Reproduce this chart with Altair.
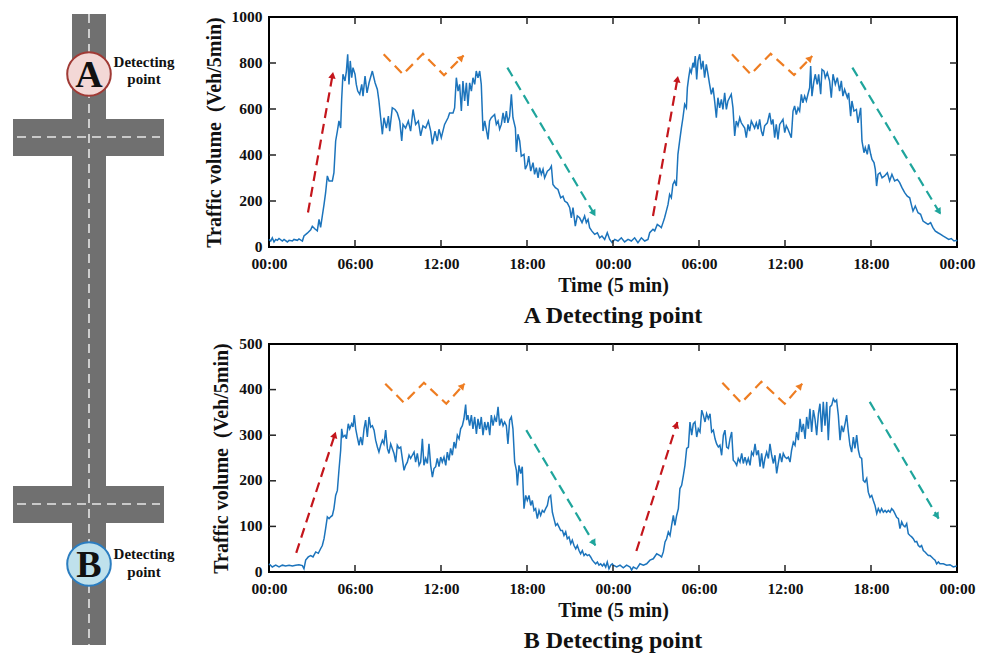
import math
import altair as alt
import pandas as pd

FONT = "Liberation Serif"
INK = "#111111"

# ---------------- data (hours, Veh/5min) ----------------
A_POINTS = [
(0.00,33),(0.12,26),(0.23,40),(0.35,22),(0.47,33),(0.58,29),(0.70,37),(0.93,26),(1.05,33),(1.28,22),(1.40,29),(1.63,26),(1.74,33),(1.98,29),(2.09,35),(2.33,26),(2.44,48),(2.67,60),(2.91,75),(3.02,90),(3.21,78),(3.37,70),(3.49,120),(3.60,85),(3.72,135),(3.84,185),(3.95,236),(4.07,309),(4.19,287),(4.42,287),(4.53,323),(4.65,461),(4.77,504),(4.88,548),(5.00,517),(5.07,642),(5.16,751),(5.30,722),(5.40,765),(5.49,838),(5.58,707),(5.67,809),(5.77,736),(5.86,780),(6.00,751),(6.09,707),(6.19,678),(6.33,664),(6.47,707),(6.56,656),(6.70,743),(6.84,670),(6.98,714),(7.21,765),(7.40,714),(7.56,685),(7.67,635),(7.79,562),(7.91,490),(8.02,562),(8.19,517),(8.33,569),(8.42,504),(8.60,605),(8.79,598),(8.95,583),(9.12,548),(9.26,461),(9.35,533),(9.53,517),(9.72,548),(9.88,504),(10.05,598),(10.23,533),(10.42,548),(10.58,483),(10.74,527),(10.93,517),(11.12,548),(11.28,504),(11.40,446),(11.58,504),(11.74,461),(11.86,512),
(12.02,475),(12.25,533),(12.49,562),(12.60,583),(12.84,583),(12.95,605),(13.07,736),(13.19,678),(13.30,707),(13.42,591),(13.53,722),(13.65,635),(13.77,714),(13.88,613),(14.00,714),(14.12,678),(14.23,736),(14.35,707),(14.46,765),(14.58,736),(14.70,765),(14.81,707),(14.93,504),(15.05,548),(15.16,512),(15.28,468),(15.39,548),(15.51,562),(15.74,576),(15.86,533),(15.98,548),(16.09,512),(16.21,533),(16.33,583),(16.44,540),(16.56,591),(16.67,540),(16.79,569),(16.91,664),(17.02,562),(17.19,517),(17.26,413),(17.37,490),(17.49,461),(17.60,395),(17.79,403),(17.88,338),(18.02,359),(18.12,395),(18.26,330),(18.42,367),(18.53,316),(18.65,345),(18.77,301),(18.88,345),(19.00,316),(19.12,338),(19.23,301),(19.42,330),(19.58,338),(19.70,352),(19.81,272),(19.98,258),(20.16,250),(20.35,214),(20.51,221),(20.63,200),(20.81,192),(20.98,171),(21.09,127),(21.21,171),(21.37,91),(21.51,135),(21.67,127),(21.84,106),(22.02,135),(22.14,106),(22.26,120),(22.37,84),(22.53,69),(22.72,55),(22.91,62),(23.07,40),(23.23,48),(23.42,33),(23.60,62),(23.77,33),(23.93,19),(24.12,33),
(24.35,26),(24.58,40),(24.81,22),(25.05,33),(25.28,26),(25.51,40),(25.74,19),(25.98,40),(26.21,26),(26.44,33),(26.56,62),(26.79,77),(26.91,70),(27.09,98),(27.25,91),(27.37,84),(27.49,106),(27.60,127),(27.72,156),(27.84,185),(27.95,229),(28.07,214),(28.18,272),(28.30,287),(28.42,265),(28.53,403),(28.65,461),(28.77,517),(28.88,562),(29.00,620),(29.12,605),(29.19,693),(29.28,736),(29.37,772),(29.46,758),(29.58,801),(29.65,780),(29.74,830),(29.84,729),(29.93,809),(30.05,838),(30.16,772),(30.28,809),(30.39,736),(30.51,794),(30.63,751),(30.74,707),(30.86,664),(30.98,693),(31.09,635),(31.21,562),(31.32,649),(31.44,605),(31.56,642),(31.67,598),(31.79,670),(31.91,598),(32.02,635),(32.25,664),(32.37,605),(32.49,483),(32.60,548),(32.72,527),(32.84,562),(32.95,540),(33.19,517),(33.30,475),(33.42,533),(33.53,504),(33.65,548),(33.88,517),(34.00,540),(34.12,512),(34.23,555),(34.35,504),(34.46,483),(34.58,527),(34.77,540),(34.93,583),(35.05,533),(35.16,555),(35.28,475),(35.39,533),(35.51,468),
(35.63,533),(35.86,555),(35.98,497),(36.09,527),(36.21,512),(36.44,475),(36.56,591),(36.67,613),(36.79,576),(36.91,605),(37.02,591),(37.14,664),(37.25,627),(37.37,656),(37.49,635),(37.60,664),(37.72,693),(37.79,787),(37.88,656),(38.02,722),(38.11,751),(38.25,707),(38.35,751),(38.49,664),(38.58,772),(38.72,765),(38.81,736),(38.95,758),(39.11,722),(39.23,649),(39.35,751),(39.51,707),(39.65,736),(39.81,678),(39.93,722),(40.04,656),(40.16,685),(40.35,649),(40.44,670),(40.58,569),(40.67,635),(40.81,591),(40.98,598),(41.09,540),(41.28,605),(41.37,461),(41.51,410),(41.60,432),(41.74,403),(41.84,446),(41.98,403),(42.07,381),(42.21,367),(42.30,338),(42.39,265),(42.49,316),(42.63,323),(42.77,301),(42.95,309),(43.14,323),(43.30,287),(43.46,316),(43.65,287),(43.84,294),(44.00,280),(44.16,258),(44.35,236),(44.53,221),(44.70,214),(44.81,185),(44.93,156),(45.09,178),(45.28,149),(45.46,142),(45.63,113),(45.79,106),(45.98,98),(46.16,106),(46.32,84),(46.49,69),(46.67,62),(46.86,55),(47.02,48),(47.25,40),(47.42,33),(47.60,37),(47.79,26),(47.95,29),(48.00,25),
]

B_POINTS = [
(0.00,18),(0.23,11),(0.47,15),(0.70,11),(0.93,15),(1.16,13),(1.40,15),(1.63,13),(1.86,15),(2.09,16),(2.33,14),(2.44,7),(2.56,26),(2.74,33),(2.91,36),(3.07,33),(3.26,44),(3.44,41),(3.60,51),(3.72,58),(3.84,73),(3.95,95),(4.07,121),(4.19,117),(4.30,121),(4.42,124),(4.53,139),(4.65,168),(4.77,179),(4.88,223),(5.00,267),(5.07,314),(5.16,296),(5.30,300),(5.40,292),(5.53,325),(5.63,314),(5.77,325),(5.86,318),(5.95,344),(6.05,314),(6.16,296),(6.28,278),(6.40,296),(6.51,278),(6.63,314),(6.74,333),(6.86,296),(6.98,340),(7.09,318),(7.21,321),(7.33,311),(7.44,289),(7.56,274),(7.67,263),(7.79,278),(7.91,289),(8.02,281),(8.14,311),(8.26,271),(8.37,260),(8.49,281),(8.60,271),(8.72,260),(8.84,241),(8.95,278),(9.07,271),(9.19,274),(9.30,249),(9.42,223),(9.53,234),(9.65,241),(9.77,256),(9.88,249),(10.00,256),(10.12,263),(10.23,241),(10.35,260),(10.47,234),(10.58,241),(10.70,292),(10.81,234),(10.93,249),(11.05,238),(11.16,281),(11.28,234),(11.40,208),(11.51,227),(11.63,231),(11.74,249),(11.86,231),(11.98,252),
(12.09,241),(12.21,252),(12.33,234),(12.44,263),(12.56,245),(12.67,271),(12.79,256),(12.91,285),(13.02,271),(13.14,300),(13.26,292),(13.37,314),(13.49,321),(13.60,336),(13.72,367),(13.79,333),(13.88,344),(14.00,321),(14.12,344),(14.23,314),(14.35,340),(14.47,303),(14.58,336),(14.70,314),(14.81,340),(14.93,300),(15.05,329),(15.16,311),(15.28,329),(15.40,300),(15.51,344),(15.63,321),(15.74,340),(15.86,329),(15.98,362),(16.09,321),(16.21,336),(16.33,321),(16.44,329),(16.56,321),(16.67,281),(16.79,333),(16.91,340),(17.02,314),(17.14,241),(17.26,223),(17.33,190),(17.44,234),(17.56,216),(17.67,231),(17.79,139),(17.91,168),(18.02,157),(18.14,168),(18.26,146),(18.37,157),(18.49,135),(18.60,139),(18.72,117),(18.84,135),(18.95,124),(19.07,135),(19.19,131),(19.30,139),(19.42,146),(19.53,164),(19.65,168),(19.77,131),(19.88,117),(20.00,102),(20.12,106),(20.23,99),(20.35,91),(20.47,91),(20.58,80),(20.70,88),(20.81,73),(20.93,77),(21.05,62),(21.16,70),(21.28,58),(21.40,51),(21.51,58),(21.63,47),(21.74,40),(21.86,47),(21.98,36),(22.09,40),(22.21,36),(22.33,38),(22.44,33),(22.56,26),(22.67,22),(22.79,18),(22.91,22),(23.02,15),(23.14,18),(23.26,13),(23.37,18),(23.49,11),(23.60,22),(23.72,7),(23.84,15),(23.95,18),
(24.02,15),(24.26,11),(24.49,15),(24.72,9),(24.95,15),(25.19,11),(25.30,4),(25.42,11),(25.65,7),(25.88,18),(26.12,15),(26.35,18),(26.58,26),(26.81,29),(27.05,40),(27.28,36),(27.39,33),(27.51,44),(27.63,66),(27.74,73),(27.86,88),(27.98,80),(28.09,102),(28.21,124),(28.32,102),(28.44,124),(28.56,139),(28.67,183),(28.79,190),(28.91,212),(29.02,234),(29.14,271),(29.26,274),(29.37,329),(29.49,300),(29.60,325),(29.72,329),(29.84,296),(29.95,314),(30.07,307),(30.19,355),(30.30,344),(30.42,329),(30.53,347),(30.65,336),(30.77,347),(30.88,307),(31.00,311),(31.12,292),(31.23,281),(31.35,274),(31.46,278),(31.58,256),(31.70,300),(31.81,311),(31.93,274),(32.05,271),(32.16,292),(32.28,307),(32.39,245),(32.51,241),(32.63,234),(32.74,249),(32.86,241),(32.98,260),(33.09,238),(33.21,252),(33.32,238),(33.44,249),(33.56,234),(33.67,263),(33.79,256),(33.91,281),(34.02,256),(34.14,267),(34.26,231),(34.37,260),(34.49,227),(34.60,249),(34.72,263),(34.84,249),(34.95,281),(35.07,256),(35.19,238),(35.30,256),(35.42,216),(35.53,238),(35.65,260),(35.77,241),(35.88,260),
(36.00,252),(36.12,249),(36.23,252),(36.35,241),(36.46,267),(36.58,285),(36.70,278),(36.81,307),(36.93,289),(37.05,336),(37.16,307),(37.28,325),(37.40,292),(37.51,340),(37.63,314),(37.74,358),(37.86,307),(37.98,355),(38.09,336),(38.21,300),(38.33,347),(38.44,369),(38.56,307),(38.67,373),(38.79,321),(38.91,373),(39.02,289),(39.14,362),(39.26,366),(39.37,380),(39.49,373),(39.60,377),(39.72,344),(39.84,289),(39.95,321),(40.07,307),(40.19,325),(40.30,344),(40.42,307),(40.53,278),(40.65,263),(40.77,296),(40.88,271),(41.00,300),(41.12,267),(41.23,252),(41.35,249),(41.46,201),(41.58,197),(41.70,205),(41.81,175),(41.93,164),(42.05,168),(42.16,157),(42.28,146),(42.40,128),(42.51,139),(42.63,131),(42.74,139),(42.86,131),(42.98,135),(43.09,131),(43.21,135),(43.33,131),(43.44,139),(43.56,135),(43.67,128),(43.79,120),(43.91,117),(44.02,95),(44.14,110),(44.26,102),(44.37,99),(44.49,106),(44.60,84),(44.72,80),(44.84,77),(44.95,73),(45.07,66),(45.19,67),(45.30,58),(45.42,55),(45.53,58),(45.65,47),(45.77,44),(45.88,40),(46.00,36),(46.12,36),(46.23,33),(46.35,29),(46.47,26),(46.58,18),(46.70,22),(46.81,18),(47.05,18),(47.28,15),(47.51,16),(47.74,11),(47.98,13),
]

X_TICK_VALUES = [0, 6, 12, 18, 24, 30, 36, 42, 48]
X_TICK_LABELS = ["00:00", "06:00", "12:00", "18:00", "00:00", "06:00", "12:00", "18:00", "00:00"]
A_Y_TICKS = [0, 200, 400, 600, 800, 1000]
B_Y_TICKS = [0, 100, 200, 300, 400, 500]

# trend arrows: (id, kind, [(hour, volume), ...]) ; last point is the arrow tip
A_ARROWS = [
    ("r1", "rise", [(2.72, 150), (4.47, 760)]),
    ("o1", "fluct", [(8.00, 838), (9.35, 751), (10.74, 840), (12.21, 747), (13.58, 833)]),
    ("t1", "fall", [(16.63, 780), (22.77, 135)]),
    ("r2", "rise", [(26.79, 135), (28.53, 743)]),
    ("o2", "fluct", [(32.30, 838), (33.61, 751), (35.00, 840), (36.63, 748), (37.90, 830)]),
    ("t2", "fall", [(40.70, 780), (46.86, 142)]),
]
B_ARROWS = [
    ("r1", "rise", [(1.90, 42), (4.65, 307)]),
    ("o1", "fluct", [(8.11, 413), (9.42, 371), (10.81, 415), (12.37, 369), (13.65, 413)]),
    ("t1", "fall", [(17.95, 311), (22.77, 58)]),
    ("r2", "rise", [(25.63, 46), (28.49, 329)]),
    ("o2", "fluct", [(31.63, 415), (32.95, 371), (34.35, 417), (35.98, 369), (37.20, 413)]),
    ("t2", "fall", [(41.91, 373), (46.72, 117)]),
]
ARROW_KINDS = ["rise", "fluct", "fall"]
ARROW_COLORS = ["#c4161c", "#ee7d22", "#1fa59c"]
LINE_COLOR = "#1c74bc"

W = 688
TICK = 7


def panel(points, arrows, ymax, yticks, height, title):
    df = pd.DataFrame(points, columns=["t", "v"])
    xs = alt.Scale(domain=[0, 48], nice=False, zero=False)
    ys = alt.Scale(domain=[0, ymax], nice=False)
    label_expr = "[" + ",".join("'%s'" % s for s in X_TICK_LABELS) + "][round(datum.value/6)]"
    lab = dict(labelFont=FONT, labelFontSize=15.5, labelFontWeight="bold", labelColor=INK,
               titleFont=FONT, titleFontWeight="bold", titleColor=INK)

    # one shared axis definition per channel, given identically to every layer
    x_main = alt.Axis(orient="bottom", values=X_TICK_VALUES, labelExpr=label_expr,
                      ticks=False, domain=False, grid=False,
                      labelPadding=9, labelFlush=False,
                      title="Time (5 min)", titleFontSize=20, titlePadding=4, **lab)
    y_main = alt.Axis(orient="left", values=yticks, format="d", grid=False,
                      ticks=False, domain=False, labelOffset=-1,
                      labelPadding=7, title="Traffic volume\u00a0 (Veh/5min)", titleFontSize=20,
                      titlePadding=7, **lab)

    line = alt.Chart(df).mark_line(color=LINE_COLOR, strokeWidth=1.5).encode(
        x=alt.X("t:Q", scale=xs, axis=x_main),
        y=alt.Y("v:Q", scale=ys, axis=y_main),
    )

    # inward ticks as thin rectangles (tick length TICK px converted to data units)
    tx = TICK / W * 48
    ty = TICK / height * ymax
    hw = 0.75 / W * 48
    hh = 0.75 / height * ymax
    boxes = []
    for t in X_TICK_VALUES[1:-1]:
        boxes.append({"t": t - hw, "t2": t + hw, "v": 0, "v2": ty})
        boxes.append({"t": t - hw, "t2": t + hw, "v": ymax - ty, "v2": ymax})
    for v in yticks[1:-1]:
        boxes.append({"t": 0, "t2": tx, "v": v - hh, "v2": v + hh})
        boxes.append({"t": 48 - tx, "t2": 48, "v": v - hh, "v2": v + hh})
    bdf = pd.DataFrame(boxes)
    ticks_l = alt.Chart(bdf).mark_rect().encode(
        x=alt.X("t:Q", scale=xs, axis=x_main), x2="t2:Q",
        y=alt.Y("v:Q", scale=ys, axis=y_main), y2="v2:Q",
        color=alt.value("#222222"))

    rows, heads = [], []
    for aid, kind, pts in arrows:
        for i, (t, v) in enumerate(pts):
            rows.append({"id": aid, "kind": kind, "o": i, "t": t, "v": v})
        (t1, v1), (t2, v2) = pts[-2], pts[-1]
        dx = (t2 - t1) / 48 * W
        dy = (v2 - v1) / ymax * height
        ang = math.degrees(math.atan2(dx, dy)) % 360
        back = 3.0
        heads.append({"id": aid, "kind": kind,
                      "t": t2 - back * math.sin(math.radians(ang)) / W * 48,
                      "v": v2 - back * math.cos(math.radians(ang)) / height * ymax,
                      "angle": ang})
    adf = pd.DataFrame(rows)
    hdf = pd.DataFrame(heads)
    cscale = alt.Scale(domain=ARROW_KINDS, range=ARROW_COLORS)
    arrows_l = alt.Chart(adf).mark_line(strokeDash=[10, 6], strokeWidth=2.2).encode(
        x=alt.X("t:Q", scale=xs, axis=x_main), y=alt.Y("v:Q", scale=ys, axis=y_main),
        detail="id:N", order="o:Q", color=alt.Color("kind:N", scale=cscale, legend=None),
    )
    heads_l = alt.Chart(hdf).mark_point(shape="triangle-up", filled=True, size=55, opacity=1).encode(
        x=alt.X("t:Q", scale=xs, axis=x_main), y=alt.Y("v:Q", scale=ys, axis=y_main),
        angle=alt.Angle("angle:Q", scale=alt.Scale(domain=[0, 360], range=[0, 360])),
        color=alt.Color("kind:N", scale=cscale, legend=None),
    )
    return alt.layer(line, arrows_l, heads_l, ticks_l).properties(
        width=W, height=height,
        title=alt.TitleParams(title, orient="bottom", font=FONT, fontSize=24, fontWeight="bold",
                              color=INK, offset=8, anchor="middle"),
    )


# ---------------- road diagram (decoration, own pixel-like units) ----------------
# The diagram's own view is 1x1 px and sits under the vertical road; its marks are placed
# through explicit scale ranges.
DW, DH = 180, 630
OFF = 8
XC = 82
ROADS = pd.DataFrame({"x1": [65, 6, 6], "x2": [99, 157, 157], "y1": [5, 110, 477], "y2": [636, 147, 514]})
CENTER = pd.DataFrame({"x1": [82, 10, 10], "x2": [82, 153, 153], "y1": [5, 128, 495], "y2": [636, 128, 495]})
NODES = pd.DataFrame({"x": [82, 82], "y": [65, 555], "name": ["A", "B"]})
LABELS = pd.DataFrame({"x": [137, 137, 137, 137], "y": [58, 75, 550, 568],
                       "txt": ["Detecting", "point", "Detecting", "point"]})
EXTENT = pd.DataFrame({"x1": [2, 177], "x2": [3, 178], "y1": [300, 300], "y2": [301, 301]})

dx_s = alt.Scale(domain=[0, DW], range=[-XC, DW - XC], nice=False, zero=False)
dy_s = alt.Scale(domain=[OFF, DH + OFF], range=[0, DH], nice=False, zero=False)
extent = alt.Chart(EXTENT).mark_rect(color="white", opacity=0).encode(
    x=alt.X("x1:Q", scale=dx_s, axis=None), x2="x2:Q",
    y=alt.Y("y1:Q", scale=dy_s, axis=None), y2="y2:Q")
roads = alt.Chart(ROADS).mark_rect(color="#707070").encode(
    x=alt.X("x1:Q", scale=dx_s, axis=None), x2="x2:Q",
    y=alt.Y("y1:Q", scale=dy_s, axis=None), y2="y2:Q")
center = alt.Chart(CENTER).mark_rule(color="#e6e6e6", strokeWidth=1.6, strokeDash=[9, 6]).encode(
    x=alt.X("x1:Q", scale=dx_s, axis=None), x2="x2:Q",
    y=alt.Y("y1:Q", scale=dy_s, axis=None), y2="y2:Q")
circ_a = alt.Chart(NODES[NODES.name == "A"]).mark_circle(
    size=1900, color="#f3d8d6", stroke="#a03a35", strokeWidth=2, opacity=1).encode(
    x=alt.X("x:Q", scale=dx_s, axis=None), y=alt.Y("y:Q", scale=dy_s, axis=None))
circ_b = alt.Chart(NODES[NODES.name == "B"]).mark_circle(
    size=1900, color="#bfe1ec", stroke="#2b7dc0", strokeWidth=2, opacity=1).encode(
    x=alt.X("x:Q", scale=dx_s, axis=None), y=alt.Y("y:Q", scale=dy_s, axis=None))
letters = alt.Chart(NODES).mark_text(font=FONT, fontSize=38, fontWeight="bold", color=INK,
                                     baseline="alphabetic", dy=13).encode(
    x=alt.X("x:Q", scale=dx_s, axis=None), y=alt.Y("y:Q", scale=dy_s, axis=None), text="name:N")
words = alt.Chart(LABELS).mark_text(font=FONT, fontSize=15, fontWeight="bold", color=INK,
                                    baseline="alphabetic").encode(
    x=alt.X("x:Q", scale=dx_s, axis=None), y=alt.Y("y:Q", scale=dy_s, axis=None), text="txt:N")
diagram = alt.layer(extent, roads, center, circ_a, circ_b, letters, words).properties(
    width=1, height=1)

pA = panel(A_POINTS, A_ARROWS, 1000, A_Y_TICKS, 230, "A Detecting point")
pB = panel(B_POINTS, B_ARROWS, 500, B_Y_TICKS, 228, "B Detecting point")

chart = alt.hconcat(diagram, alt.vconcat(pA, pB, spacing=6), spacing=17).properties(
    padding=0
).configure(font=FONT).configure_view(stroke="black", strokeWidth=2)

chart.save("out.html", embed_options={"renderer": "svg", "actions": False})
